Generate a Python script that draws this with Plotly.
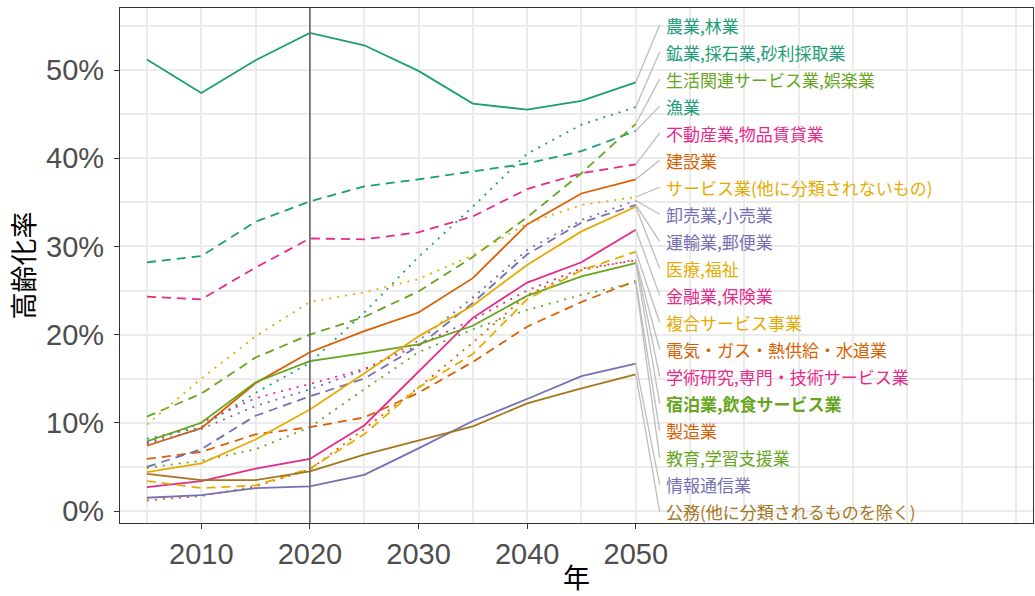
import plotly.graph_objects as go

years = [2005, 2010, 2015, 2020, 2025, 2030, 2035, 2040, 2045, 2050]

industries = [
    "農業,林業", "漁業", "鉱業,採石業,砂利採取業", "建設業", "製造業",
    "電気・ガス・熱供給・水道業", "情報通信業", "運輸業,郵便業", "卸売業,小売業",
    "金融業,保険業", "不動産業,物品賃貸業", "学術研究,専門・技術サービス業",
    "宿泊業,飲食サービス業", "生活関連サービス業,娯楽業", "教育,学習支援業",
    "医療,福祉", "複合サービス事業", "サービス業(他に分類されないもの)",
    "公務(他に分類されるものを除く)",
]

agri = [51.2, 47.4, 51.1, 54.2, 52.8, 49.9, 46.2, 45.5, 46.5, 48.6]
fish = [28.2, 28.9, 32.8, 35.1, 36.8, 37.6, 38.5, 39.4, 40.8, 43.1]
mining = [8.2, 9.5, 13.4, 16.8, 22.5, 28.8, 34.5, 40.5, 43.8, 45.8]
constr = [7.4, 9.4, 14.5, 18.0, 20.4, 22.5, 26.4, 32.5, 36.0, 37.6]
manuf = [5.9, 6.7, 8.7, 9.5, 10.6, 13.4, 16.9, 20.9, 23.7, 26.1]
utility = [1.2, 1.7, 2.8, 4.7, 9.3, 14.0, 19.1, 24.5, 27.3, 28.5]
info = [1.5, 1.8, 2.6, 2.8, 4.1, 7.1, 10.2, 12.7, 15.3, 16.7]
transport = [5.0, 7.0, 10.8, 13.0, 15.0, 18.7, 23.6, 29.1, 32.7, 34.7]
wholesale = [7.6, 9.3, 11.9, 13.8, 16.0, 19.3, 24.2, 29.6, 33.0, 35.2]
finance = [2.7, 3.4, 4.8, 5.9, 9.7, 15.8, 21.9, 25.9, 28.2, 31.9]
realestate = [24.3, 24.0, 27.6, 30.9, 30.8, 31.6, 33.4, 36.5, 38.3, 39.3]
science = [7.7, 10.0, 12.8, 14.4, 16.1, 18.8, 21.7, 25.0, 27.5, 28.4]
hotel = [7.9, 10.0, 14.6, 17.0, 17.9, 18.9, 21.0, 24.4, 26.6, 28.1]
living = [10.7, 13.3, 17.4, 20.0, 22.0, 24.9, 28.8, 33.3, 38.3, 43.9]
edu = [4.9, 5.7, 7.0, 9.5, 13.8, 18.0, 20.6, 22.8, 24.5, 25.9]
medical = [4.4, 5.4, 8.1, 11.5, 15.6, 19.8, 23.3, 27.9, 31.7, 34.5]
compound = [3.4, 2.6, 2.9, 4.8, 8.7, 14.0, 17.8, 24.0, 27.3, 29.4]
service = [9.8, 15.0, 19.8, 23.7, 24.8, 26.3, 29.0, 32.6, 34.7, 35.6]
public = [4.2, 3.5, 3.5, 4.5, 6.4, 8.0, 9.6, 12.2, 13.9, 15.5]

series = [agri, fish, mining, constr, manuf, utility, info, transport, wholesale,
          finance, realestate, science, hotel, living, edu, medical, compound,
          service, public]

x_ticks = [2010, 2020, 2030, 2040, 2050]
y_ticks = [0, 10, 20, 30, 40, 50]
y_ticktext = ["0%", "10%", "20%", "30%", "40%", "50%"]

highlight = "宿泊業,飲食サービス業"

palette = ["#1B9E77", "#D95F02", "#7570B3", "#E7298A", "#66A61E", "#E6AB02", "#A6761D"]
dashes = ["solid", "9px,6px", "2px,6px"]

fig = go.Figure()
for i, (name, vals) in enumerate(zip(industries, series)):
    fig.add_trace(go.Scatter(
        x=years, y=vals, mode="lines", name=name,
        line=dict(color=palette[i // 3], width=1.8, dash=dashes[i % 3]),
        hoverinfo="skip",
    ))

# label placement (right side, evenly spaced, sorted by final value)
order = sorted(range(len(series)), key=lambda k: -series[k][-1])
top_y, bot_y = 55.1, -0.08
step = (top_y - bot_y) / (len(order) - 1)
label_x = 2052.6
seg_x = 2052.2
for rank, k in enumerate(order):
    ly = top_y - rank * step
    color = palette[k // 3]
    fig.add_shape(type="line", xref="x", yref="y",
                  x0=years[-1], y0=series[k][-1], x1=seg_x, y1=ly,
                  line=dict(color="#BDBDBD", width=1.3))
    txt = industries[k]
    if txt == highlight:
        txt = "<b>" + txt + "</b>"
    fig.add_annotation(x=label_x, y=ly, xref="x", yref="y", text=txt,
                       showarrow=False, xanchor="left", yanchor="middle",
                       font=dict(size=17, color=color, family="Noto Sans CJK JP"))

fig.add_shape(type="line", xref="x", yref="paper", x0=2020, x1=2020, y0=0, y1=1,
              line=dict(color="#6E6E6E", width=1.7))

fig.update_layout(
    width=1035, height=596,
    margin=dict(l=120, r=2, t=8, b=73),
    plot_bgcolor="white", paper_bgcolor="white",
    showlegend=False,
    font=dict(family="Liberation Sans, Arial, Noto Sans CJK JP"),
)
fig.update_xaxes(
    range=[2002.52, 2086.57], tickvals=x_ticks,
    ticks="outside", ticklen=5, tickwidth=1.1, tickcolor="#333333",
    tickfont=dict(size=29, color="#4D4D4D", family="Liberation Sans, Arial"),
    ticklabelstandoff=0,
    showgrid=True, gridcolor="#EBEBEB", gridwidth=1.5,
    minor=dict(dtick=5, tick0=2005, showgrid=True, gridcolor="#EBEBEB", gridwidth=1.5),
    showline=True, linecolor="#333333", linewidth=1.1, mirror=True, zeroline=False,
    automargin=False,
    title=dict(text="年", font=dict(size=27, color="black", family="Noto Sans CJK JP"), standoff=9),
)
fig.update_yaxes(
    range=[-1.36, 57.03], tickvals=y_ticks, ticktext=y_ticktext,
    ticks="outside", ticklen=5, tickwidth=1.1, tickcolor="#333333",
    tickfont=dict(size=29, color="#4D4D4D", family="Liberation Sans, Arial"),
    ticklabelstandoff=4,
    showgrid=True, gridcolor="#EBEBEB", gridwidth=1.5,
    minor=dict(dtick=5, tick0=0, showgrid=True, gridcolor="#EBEBEB", gridwidth=1.5),
    showline=True, linecolor="#333333", linewidth=1.1, mirror=True, zeroline=False,
    automargin=False,
    title=dict(text="高齢化率", font=dict(size=27, color="black", family="Noto Sans CJK JP"), standoff=3),
)

fig.write_html(
    "out.html",
    config={"displayModeBar": False},
    post_script="document.body.style.margin='0';document.body.style.overflow='hidden';",
)
